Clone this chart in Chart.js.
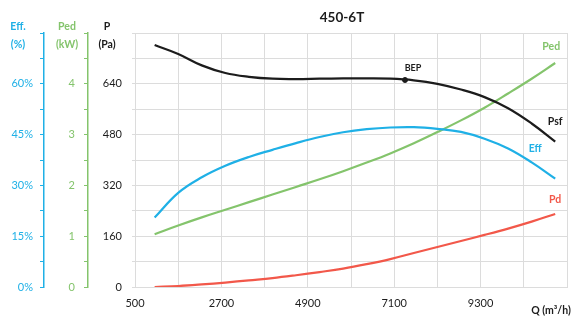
<!DOCTYPE html>
<html>
<head>
<meta charset="utf-8">
<script src="https://cdn.jsdelivr.net/npm/chart.js@4"></script>
<style>
  body { margin: 0; background: #fff; }
  .box { width: 577px; height: 320px; }
</style>
</head>
<body>
<div class="box"><canvas id="fanChart"></canvas></div>
<script>
// flow rate (m3/h) where the curves were read
const flow = [1000, 1600, 2200, 2800, 3400, 4000, 4600, 5200, 5800, 6400, 7000, 7600, 8200, 8800, 9400, 10000, 10600, 11200];
// static pressure Psf (Pa)
const psf = [762, 734, 698, 674, 662, 656, 655, 656, 657, 657, 656, 651, 640, 622, 598, 563, 515, 458];
// efficiency (%)
const eff = [20.5, 27.8, 32.4, 35.8, 38.4, 40.5, 42.5, 44.3, 45.7, 46.6, 47.1, 47.2, 46.7, 45.8, 43.8, 40.9, 36.8, 32.0];
// shaft power Ped (kW)
const ped = [1.04, 1.21, 1.37, 1.52, 1.67, 1.82, 1.97, 2.12, 2.28, 2.45, 2.63, 2.83, 3.05, 3.28, 3.53, 3.81, 4.10, 4.41];
// dynamic pressure Pd (Pa)
const pd = [0, 3, 8, 14, 21, 28, 37, 47, 58, 72, 88, 107, 126, 145, 164, 184, 206, 230];
// best efficiency point
const bepFlow = [7375];
const bepP = [652];

// labelled ticks
const xTicks = [500, 2700, 4900, 7100, 9300];
const pTicks = [0, 160, 320, 480, 640];
const effTicks = [0, 15, 30, 45, 60];
const pedTicks = [0, 1, 2, 3, 4];

const BLUE = "#1fb0e6";
const GREEN = "#84c46c";
const RED = "#f2584a";
const BLACK = "#1c1c1c";
const GRID = "#dcdcdc";
const FONT = "Lato, 'Open Sans', sans-serif";

function pts(ys) {
  return flow.map((q, i) => ({ x: q, y: ys[i] }));
}

function has(list, v) {
  return list.some(t => Math.abs(t - v) < 1e-6);
}

// texts drawn around the plot: title, axis headers, curve names
const textPlugin = {
  id: "texts",
  afterDraw(chart) {
    const ctx = chart.ctx;
    const sx = chart.scales.x;
    ctx.save();
    ctx.textBaseline = "middle";
    ctx.textAlign = "center";

    ctx.font = "bold 13.5px " + FONT;
    ctx.fillStyle = BLACK;
    ctx.fillText("450-6T", 342, 18);

    ctx.font = "bold 10.5px " + FONT;
    ctx.fillStyle = BLUE;
    ctx.fillText("Eff.", 18, 27);
    ctx.fillText("(%)", 18, 45);
    ctx.fillStyle = GREEN;
    ctx.fillText("Ped", 67, 27);
    ctx.fillText("(kW)", 67, 45);
    ctx.fillStyle = BLACK;
    ctx.fillText("P", 107, 27);
    ctx.fillText("(Pa)", 107, 45);

    ctx.font = "bold 10.5px " + FONT;
    ctx.fillText("Q (m³/h)", 551, 311);

    // curve names next to the curve ends
    const last = flow.length - 1;
    const ex = sx.getPixelForValue(flow[last]);
    const yP = chart.scales.yP, yE = chart.scales.yEff, yK = chart.scales.yPed;
    ctx.font = "bold 10.5px " + FONT;
    ctx.fillStyle = GREEN;
    ctx.fillText("Ped", ex - 4, yK.getPixelForValue(ped[last]) - 16);
    ctx.fillStyle = BLACK;
    ctx.fillText("Psf", ex, yP.getPixelForValue(psf[last]) - 20);
    ctx.fillStyle = BLUE;
    ctx.fillText("Eff", ex - 20, yE.getPixelForValue(eff[last]) - 30);
    ctx.fillStyle = RED;
    ctx.fillText("Pd", ex, yP.getPixelForValue(pd[last]) - 14);

    ctx.font = "bold 9px " + FONT;
    ctx.fillStyle = BLACK;
    ctx.fillText("BEP", sx.getPixelForValue(bepFlow[0]) + 8, yP.getPixelForValue(bepP[0]) - 12);
    ctx.restore();
  }
};

function sideAxis(id, color, max, step, labels, fmt, width, weight, pad, tickLen) {
  return {
    type: "linear",
    position: "left",
    weight: weight,
    min: 0,
    max: max,
    afterBuildTicks: (scale) => {
      const t = [];
      for (let i = 0; i * step <= max + 1e-9; i++) t.push({ value: +(i * step).toFixed(4) });
      scale.ticks = t;
    },
    afterFit: (scale) => { scale.width = width; },
    border: { display: id !== "yP", color: color, width: 1.5 },
    grid: {
      display: true,
      drawOnChartArea: id === "yP",
      color: id === "yP" ? GRID : color,
      tickLength: tickLen,
      tickColor: id === "yP" ? GRID : color
    },
    ticks: {
      color: color,
      padding: pad,
      autoSkip: false,
      font: { family: FONT, size: 11 },
      callback: (v) => has(labels, v) ? fmt(v) : ""
    }
  };
}

new Chart("fanChart", {
  type: "line",
  data: {
    datasets: [
      { label: "Psf", data: pts(psf), yAxisID: "yP", borderColor: BLACK, borderWidth: 2.2 },
      { label: "Eff", data: pts(eff), yAxisID: "yEff", borderColor: BLUE, borderWidth: 2.2 },
      { label: "Ped", data: pts(ped), yAxisID: "yPed", borderColor: GREEN, borderWidth: 2.2 },
      { label: "Pd", data: pts(pd), yAxisID: "yP", borderColor: RED, borderWidth: 2.2 },
      {
        label: "BEP",
        data: bepFlow.map((q, i) => ({ x: q, y: bepP[i] })),
        yAxisID: "yP",
        showLine: false,
        pointRadius: 2.5,
        pointBackgroundColor: BLACK,
        pointBorderColor: BLACK
      }
    ]
  },
  options: {
    responsive: true,
    maintainAspectRatio: false,
    animation: false,
    layout: { padding: { top: 33, right: 2, left: 0, bottom: 0 } },
    elements: {
      line: { tension: 0.4, fill: false },
      point: { radius: 0 }
    },
    plugins: {
      legend: { display: false },
      title: { display: false },
      tooltip: { enabled: false }
    },
    scales: {
      x: {
        type: "linear",
        min: 500,
        max: 11500,
        afterBuildTicks: (scale) => {
          const t = [];
          for (let v = 500; v <= 11500; v += 1100) t.push({ value: v });
          scale.ticks = t;
        },
        afterFit: (scale) => { scale.height = 33; },
        border: { color: GRID },
        grid: { color: GRID, drawTicks: false },
        ticks: {
          color: BLACK,
          padding: 10,
          autoSkip: false,
          maxRotation: 0,
          font: { family: FONT, size: 11 },
          callback: (v) => has(xTicks, v) ? String(v) : ""
        }
      },
      yP: sideAxis("yP", BLACK, 800, 80, pTicks, (v) => String(v), 47, 0, 10, 3),
      yPed: sideAxis("yPed", GREEN, 5, 0.5, pedTicks, (v) => String(v), 44, 1, 9, 4),
      yEff: sideAxis("yEff", BLUE, 75, 7.5, effTicks, (v) => v + "%", 44, 2, 7, 4)
    }
  },
  plugins: [textPlugin]
});
</script>
</body>
</html>
